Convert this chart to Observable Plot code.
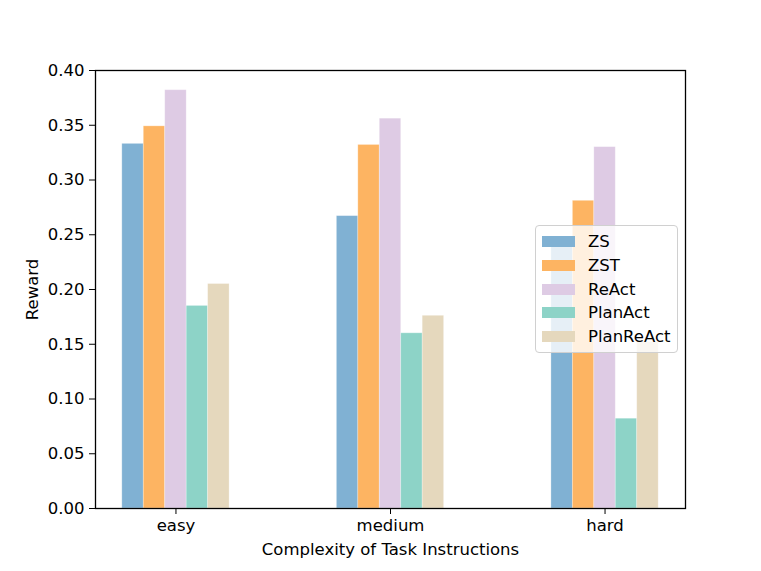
<!DOCTYPE html>
<html>
<head>
<meta charset="utf-8">
<script src="https://cdn.jsdelivr.net/npm/d3@7"></script>
<script src="https://cdn.jsdelivr.net/npm/@observablehq/plot@0.6"></script>
<style>
  html, body { margin: 0; padding: 0; background: #fff; }
  #wrap { position: relative; width: 761px; height: 571px; font-family: "DejaVu Sans", sans-serif; }
  #legend {
    position: absolute; left: 535px; top: 225px; width: 141px;
    padding: 4px 0 4px 0;
    background: rgba(255,255,255,0.8); border: 1px solid #d0d0d0; border-radius: 4px;
    font-size: 16.5px; color: #000;
  }
  .row { display: flex; align-items: center; height: 23.7px; }
  .sw { width: 33px; height: 11px; margin-left: 6px; margin-right: 13px; }
</style>
</head>
<body>
<div id="wrap"></div>
<script>
const categories = ["easy", "medium", "hard"];
const series = ["ZS", "ZST", "ReAct", "PlanAct", "PlanReAct"];
const colors = ["#80b1d3", "#fdb462", "#decbe4", "#8dd3c7", "#e5d8bd"];
const ZS = [0.333, 0.267, 0.242];
const ZST = [0.349, 0.332, 0.281];
const ReAct = [0.382, 0.356, 0.330];
const PlanAct = [0.185, 0.160, 0.082];
const PlanReAct = [0.205, 0.176, 0.152];
const yTicks = [0, 0.05, 0.10, 0.15, 0.20, 0.25, 0.30, 0.35, 0.40];

const values = [ZS, ZST, ReAct, PlanAct, PlanReAct];
const barW = 0.1;
const data = [];
categories.forEach((c, i) => {
  series.forEach((s, j) => {
    data.push({cat: c, ci: i, series: s, sj: j, value: values[j][i]});
  });
});

const chart = Plot.plot({
  width: 761,
  height: 571,
  marginLeft: 95,
  marginRight: 76,
  marginTop: 70,
  marginBottom: 63,
  style: {fontFamily: "DejaVu Sans, sans-serif", fontSize: "16.5px", color: "#000", background: "#fff"},
  x: {domain: [-0.375, 2.375]},
  y: {domain: [0, 0.40]},
  color: {domain: series, range: colors},
  marks: [
    Plot.rectY(data, {
      x1: d => d.ci + (d.sj - 2.5) * barW,
      x2: d => d.ci + (d.sj - 1.5) * barW,
      y: "value",
      fill: "series",
      stroke: "#ffffff",
      strokeOpacity: 0.35,
      strokeWidth: 0.8
    }),
    Plot.frame({stroke: "#000", strokeWidth: 1.3}),
    Plot.axisY({
      ticks: yTicks,
      tickFormat: d3.format(".2f"),
      tickSize: 6,
      tickPadding: 5,
      label: "Reward",
      labelAnchor: "center",
      labelArrow: "none",
      labelOffset: 69,
      fontSize: 16.5
    }),
    Plot.axisX({
      ticks: [0, 1, 2],
      tickFormat: i => categories[i],
      tickSize: 6,
      tickPadding: 5,
      label: "Complexity of Task Instructions",
      labelAnchor: "center",
      labelArrow: "none",
      labelOffset: 46,
      fontSize: 16.5
    })
  ]
});

const wrap = document.getElementById("wrap");
wrap.appendChild(chart);

const legend = document.createElement("div");
legend.id = "legend";
series.forEach((s, j) => {
  const row = document.createElement("div");
  row.className = "row";
  const sw = document.createElement("div");
  sw.className = "sw";
  sw.style.background = colors[j];
  const t = document.createElement("span");
  t.textContent = s;
  row.appendChild(sw);
  row.appendChild(t);
  legend.appendChild(row);
});
wrap.appendChild(legend);
</script>
</body>
</html>
